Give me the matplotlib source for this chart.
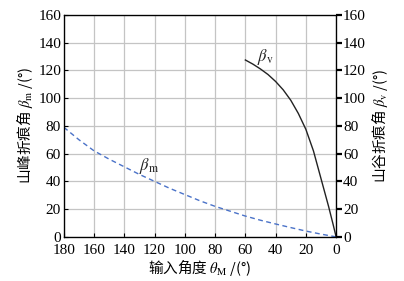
import numpy as np
import matplotlib
matplotlib.use("Agg")
import matplotlib.pyplot as plt

plt.rcParams['font.family'] = ['Liberation Serif', 'Noto Sans CJK SC']
plt.rcParams['mathtext.fontset'] = 'stix'

# 山峰折痕角 beta_m (虚线)
theta_m = [180, 170, 160, 150, 140, 130, 120, 110, 100, 90, 80, 70, 60, 50, 40, 30, 20, 10, 0]
beta_m = [79, 70, 62, 56, 50.5, 45, 40, 35, 30.5, 26, 22, 18.5, 15, 12, 9.3, 6.7, 4.2, 2, 0]

# 山谷折痕角 beta_v (实线)
theta_v = [60, 55, 50, 45, 40, 35, 30, 25, 20, 15, 10, 5, 2, 0]
beta_v = [127.5, 124.5, 121, 117, 112, 106, 98.5, 89, 77.5, 62, 42, 22, 9, 0]

xticks = np.arange(0, 181, 20)
yticks = np.arange(0, 161, 20)

fig = plt.figure(figsize=(4.04, 2.81), dpi=100)
ax = fig.add_axes([0.158, 0.157, 0.674, 0.790])

ax.plot(theta_m, beta_m, color='#4a72c8', lw=1.0, ls=(0, (3.5, 2.5)))
ax.plot(theta_v, beta_v, color='#222222', lw=1.0)

ax.set_xlim(180, 0)
ax.set_ylim(0, 160)
ax.set_xticks(xticks)
ax.set_yticks(yticks)
ax.grid(True, color='#c4c4c4', lw=0.9)
ax.tick_params(direction='in', length=3, labelsize=11, pad=2)
ax.tick_params(axis='x', pad=5)
for s in ax.spines.values():
    s.set_linewidth(0.9)

ax2 = ax.twinx()
ax2.set_ylim(0, 160)
ax2.set_yticks(yticks)
ax2.tick_params(direction='out', length=4, width=1.6, labelsize=11, pad=1)

cjk = {'family': ['Noto Sans CJK SC', 'DejaVu Sans'], 'size': 10.5}
ax.set_ylabel('山峰折痕角 $\\beta_{\\mathrm{m}}$ /(°)', fontdict=cjk, labelpad=2)
ax2.set_ylabel('山谷折痕角 $\\beta_{\\mathrm{v}}$ /(°)', fontdict=cjk, labelpad=2)
ax.set_xlabel('输入角度 $\\theta_{\\mathrm{M}}$ /(°)', fontdict=cjk, labelpad=0)

ax.text(47, 130, '$\\beta_{\\mathrm{v}}$', fontsize=12, color='#222222', ha='center', va='center')
ax.text(124, 51, '$\\beta_{\\mathrm{m}}$', fontsize=12, color='#222222', ha='center', va='center')

fig.savefig('out.png', dpi=100)
